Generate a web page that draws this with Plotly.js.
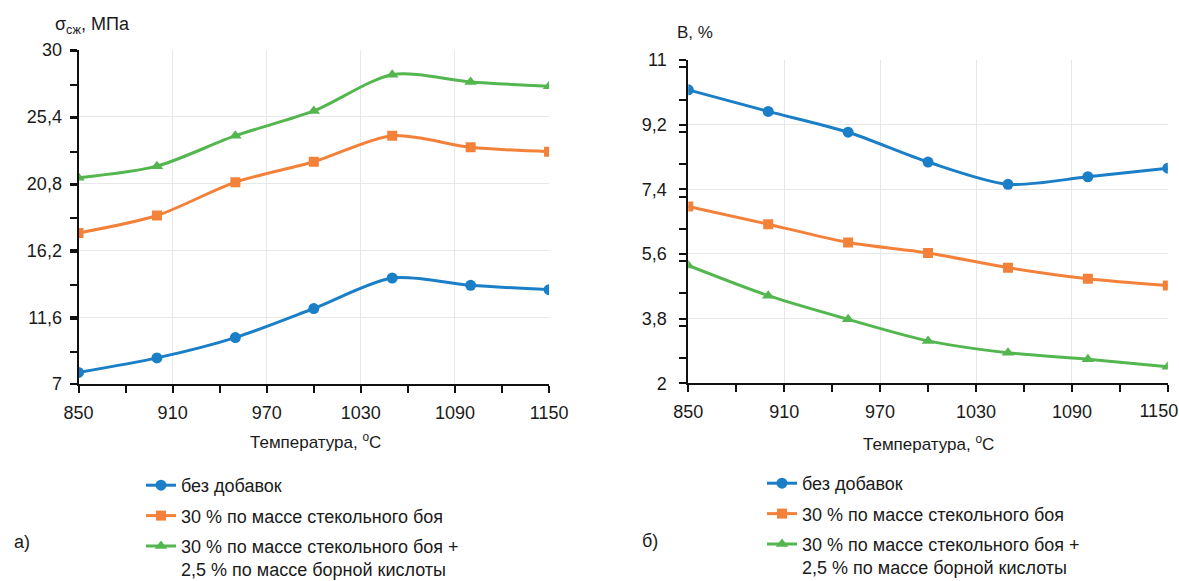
<!DOCTYPE html>
<html>
<head>
<meta charset="utf-8">
<script src="https://cdn.plot.ly/plotly-3.0.1.min.js"></script>
<style>html,body{margin:0;padding:0;background:#fff;}#chart{width:1179px;height:581px;}</style>
</head>
<body>
<div id="chart"></div>
<script>
// Data
const temperature = [850, 900, 950, 1000, 1050, 1100, 1150];
const seriesNames = [
  "без добавок",
  "30 % по массе стекольного боя",
  "30 % по массе стекольного боя +<br>2,5 % по массе борной кислоты"
];
// (a) compressive strength, MPa
const strengthNoAdd = [7.8, 8.8, 10.2, 12.2, 14.3, 13.8, 13.5];
const strengthGlass = [17.4, 18.6, 20.9, 22.3, 24.1, 23.3, 23.0];
const strengthGlassBoric = [21.2, 22.0, 24.1, 25.8, 28.3, 27.8, 27.5];
// (b) water absorption, %
const absorbNoAdd = [10.17, 9.57, 8.99, 8.16, 7.54, 7.75, 7.99];
const absorbGlass = [6.92, 6.43, 5.92, 5.63, 5.22, 4.91, 4.72];
const absorbGlassBoric = [5.28, 4.44, 3.78, 3.18, 2.85, 2.67, 2.46];
// x tick labels
const xTickVals = [850, 910, 970, 1030, 1090, 1150];
const xTickTextA = ["850", "910", "970", "1030", "1090", "1150"];
const xTickTextB = ["850", "910", "970", "1030", "1090", ""];
const xLastTickVal = [1150];
const xLastTickText = ["1150"];

const colors = ["#1a7fc6", "#f3813a", "#53b64e"];
const symbols = ["circle", "square", "triangle-up"];
const sizes = [11, 10, 11];

function mk(y, i, xa, ya, leg) {
  return {
    x: temperature, y: y, type: "scatter", mode: "lines+markers",
    name: seriesNames[i], xaxis: xa, yaxis: ya, legend: leg,
    legendgroup: leg + i,
    line: {color: colors[i], width: 3, shape: "spline", smoothing: 0.8},
    marker: {color: colors[i], symbol: symbols[i], size: sizes[i]}
  };
}

const traces = [
  mk(strengthNoAdd, 0, "x", "y", "legend"),
  mk(strengthGlass, 1, "x", "y", "legend"),
  mk(strengthGlassBoric, 2, "x", "y", "legend"),
  mk(absorbNoAdd, 0, "x2", "y2", "legend2"),
  mk(absorbGlass, 1, "x2", "y2", "legend2"),
  mk(absorbGlassBoric, 2, "x2", "y2", "legend2"),
  // empty helper trace so the overlay axis carrying the last tick label is drawn
  {x: [], y: [], type: "scatter", mode: "markers", xaxis: "x3", yaxis: "y2",
   showlegend: false, hoverinfo: "skip"}
];

const fontFam = "Liberation Sans, Arial, sans-serif";
const tickFont = {family: fontFam, size: 18, color: "#1a1a1a"};

function xaxis(domain, anchor, tt) {
  return {
    domain: domain, anchor: anchor, range: [850, 1150],
    tickmode: "array", tickvals: xTickVals, ticktext: tt,
    showline: true, linecolor: "#111", linewidth: 2,
    ticks: "outside", ticklen: 7, tickwidth: 2, tickcolor: "#111",
    minor: {tickmode: "linear", tick0: 850, dtick: 30, ticks: "outside", ticklen: 7, tickwidth: 2, tickcolor: "#111", showgrid: false},
    showgrid: true, gridcolor: "#e8e8e8", gridwidth: 1,
    zeroline: false, tickfont: tickFont, fixedrange: true,
    ticklabelstandoff: 4, ticklabeloverflow: "allow"
  };
}
function yaxis(domain, anchor, r, d, standoff) {
  return {
    domain: domain, anchor: anchor, range: r,
    tickmode: "linear", tick0: r[0], dtick: d,
    showline: true, linecolor: "#111", linewidth: 2,
    ticks: "outside", ticklen: 7, tickwidth: 2, tickcolor: "#111",
    minor: {dtick: d / 2, ticks: "outside", ticklen: 7, tickwidth: 2, tickcolor: "#111", showgrid: false},
    showgrid: true, gridcolor: "#e8e8e8", gridwidth: 1,
    zeroline: false, tickfont: tickFont, fixedrange: true,
    ticklabelstandoff: standoff, ticklabeloverflow: "allow"
  };
}

const legFont = {family: fontFam, size: 18, color: "#1a1a1a"};

const layout = {
  width: 1179, height: 581,
  margin: {l: 0, r: 0, t: 0, b: 0, autoexpand: false},
  paper_bgcolor: "#fff", plot_bgcolor: "#fff",
  separators: ", ",
  showlegend: true,
  xaxis: xaxis([0.0666, 0.4657], "y", xTickTextA),
  yaxis: yaxis([0.339, 0.914], "x", [7, 30], 4.6, 4),
  xaxis2: xaxis([0.5838, 0.9905], "y2", xTickTextB),
  yaxis2: yaxis([0.3403, 0.8967], "x2", [2, 11], 1.8, 9),
  xaxis3: {
    domain: [0.5838, 0.9905], anchor: "y2", overlaying: "x2", side: "bottom",
    range: [850, 1150], tickmode: "array", tickvals: xLastTickVal, ticktext: xLastTickText,
    showline: false, showgrid: false, zeroline: false,
    ticks: "outside", ticklen: 7, tickwidth: 2, tickcolor: "rgba(0,0,0,0)",
    tickfont: tickFont, fixedrange: true,
    ticklabelstandoff: 4, ticklabelshift: -9, ticklabeloverflow: "allow"
  },
  legend: {x: 141/1179, y: 1 - 467/581, xanchor: "left", yanchor: "top", font: legFont,
           bgcolor: "rgba(0,0,0,0)", valign: "top", tracegroupgap: 4},
  legend2: {x: 762/1179, y: 1 - 465/581, xanchor: "left", yanchor: "top", font: legFont,
            bgcolor: "rgba(0,0,0,0)", valign: "top", tracegroupgap: 4},
  annotations: [
    {text: "σ<sub>сж</sub>, МПа", xref: "paper", yref: "paper", x: 53/1179, y: 1 - 26/581,
     xanchor: "left", yanchor: "middle", showarrow: false, font: {family: fontFam, size: 18, color: "#1a1a1a"}},
    {text: "В, %", xref: "paper", yref: "paper", x: 675/1179, y: 1 - 32/581,
     xanchor: "left", yanchor: "middle", showarrow: false, font: {family: fontFam, size: 17, color: "#1a1a1a"}},
    {text: "Температура, <sup>o</sup>C", xref: "paper", yref: "paper", x: 315/1179, y: 1 - 441/581,
     xanchor: "center", yanchor: "middle", showarrow: false, font: {family: fontFam, size: 17, color: "#1a1a1a"}},
    {text: "Температура, <sup>o</sup>C", xref: "paper", yref: "paper", x: 928/1179, y: 1 - 443/581,
     xanchor: "center", yanchor: "middle", showarrow: false, font: {family: fontFam, size: 17, color: "#1a1a1a"}},
    {text: "а)", xref: "paper", yref: "paper", x: 12/1179, y: 1 - 542/581,
     xanchor: "left", yanchor: "middle", showarrow: false, font: {family: fontFam, size: 18, color: "#1a1a1a"}},
    {text: "б)", xref: "paper", yref: "paper", x: 640/1179, y: 1 - 541/581,
     xanchor: "left", yanchor: "middle", showarrow: false, font: {family: fontFam, size: 18, color: "#1a1a1a"}}
  ]
};

Plotly.newPlot("chart", traces, layout, {staticPlot: true, displayModeBar: false});
</script>
</body>
</html>
